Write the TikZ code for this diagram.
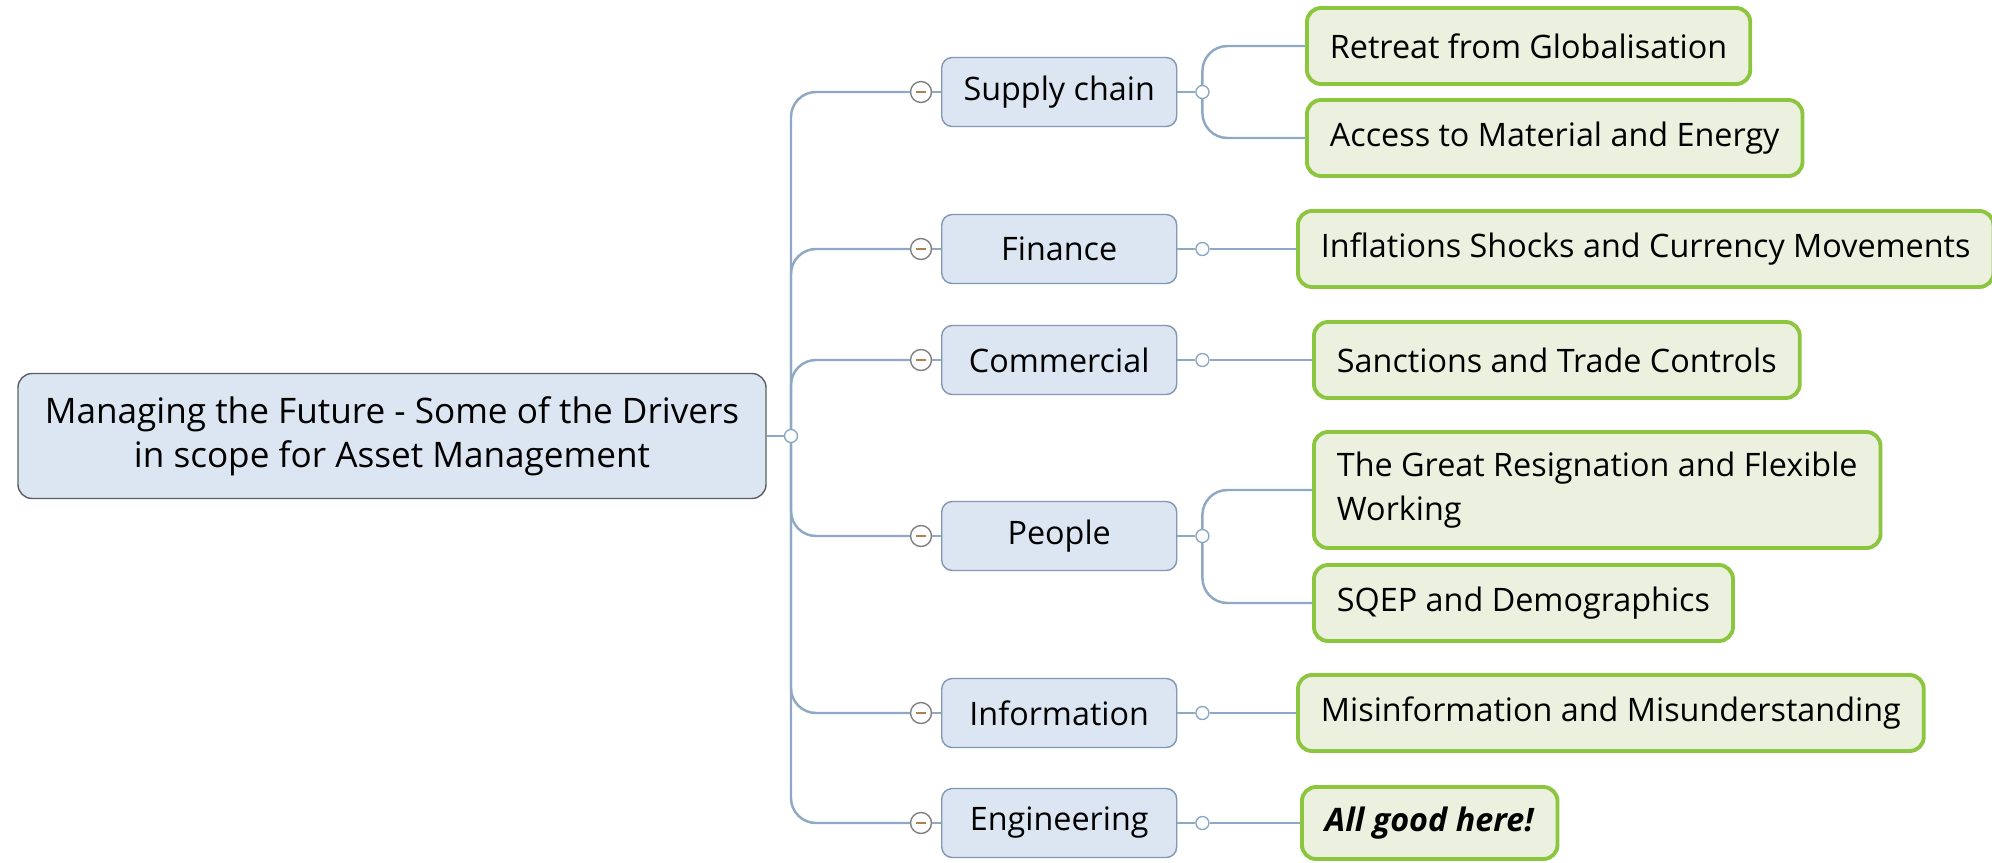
\documentclass[tikz,border=0pt]{standalone}
\usepackage{fontspec}
\setmainfont{Open Sans}
\usetikzlibrary{positioning}
\definecolor{topicfill}{HTML}{DCE6F2}
\definecolor{topicline}{HTML}{8297B3}
\definecolor{rootline}{HTML}{5A5F66}
\definecolor{leaffill}{HTML}{EBF0DF}
\definecolor{leafline}{HTML}{8CC63F}
\definecolor{linkline}{HTML}{8FA8C4}
\begin{document}
\begin{tikzpicture}[
  font=\fontsize{9.2}{12.6}\selectfont,
  root/.style={draw=rootline, fill=topicfill, rounded corners=4pt, minimum width=7.48cm,
    minimum height=1.25cm, align=center, font=\fontsize{10}{12.6}\selectfont},
  topic/.style={draw=topicline, fill=topicfill, rounded corners=3pt, minimum width=2.35cm,
    minimum height=0.69cm, anchor=west},
  leaf/.style={draw=leafline, line width=1.1pt, fill=leaffill, rounded corners=4pt,
    minimum height=0.76cm, inner xsep=0.23cm, anchor=west, align=left},
  link/.style={draw=linkline, line width=0.7pt, rounded corners=0.25cm},
  knob/.style={circle, draw=linkline, fill=white, inner sep=0pt, minimum size=0.13cm},
  fold/.style={circle, draw=gray, fill=white, inner sep=0pt, minimum size=0.21cm,
    path picture={\draw[brown!70!gray] ([xshift=-0.05cm]path picture bounding box.center)
      -- ([xshift=0.05cm]path picture bounding box.center);}},
]
\useasboundingbox (0,0) rectangle (19.92,8.62);

% centre topic
\node[root] (root) at (3.92,4.26) {Managing the Future - Some of the Drivers\\in scope for Asset Management};
\node[knob] (hub) at (7.91,4.26) {};

% main branches
\node[topic] (supply) at (9.41,7.70) {Supply chain};
\node[topic] (finance) at (9.41,6.13) {Finance};
\node[topic] (commercial) at (9.41,5.02) {Commercial};
\node[topic] (people) at (9.41,3.26) {People};
\node[topic] (information) at (9.41,1.49) {Information};
\node[topic] (engineering) at (9.41,0.39) {Engineering};

\foreach \t/\y in {supply/7.70,finance/6.13,commercial/5.02,people/3.26,information/1.49,engineering/0.39} {
  \node[fold] (\t-f) at (9.21,\y) {};
  \node[knob] (\t-k) at ([xshift=0.25cm]\t.east) {};
}

% drivers
\node[leaf] (retreat) at (13.05,8.16) {Retreat from Globalisation};
\node[leaf] (access) at (13.05,7.24) {Access to Material and Energy};
\node[leaf] (inflation) at (12.96,6.13) {Inflations Shocks and Currency Movements};
\node[leaf] (sanctions) at (13.12,5.02) {Sanctions and Trade Controls};
\node[leaf, minimum height=1.16cm] (resign) at (13.12,3.72) {The Great Resignation and Flexible\\Working};
\node[leaf] (sqep) at (13.12,2.59) {SQEP and Demographics};
\node[leaf] (misinfo) at (12.96,1.49) {Misinformation and Misunderstanding};
\node[leaf, minimum height=0.72cm] (allgood) at (13.00,0.39) {\textbf{\textit{All good here!}}};

% connectors
\draw[link] (root) -- (hub);
\foreach \t in {supply,finance,commercial,people,information,engineering} {
  \draw[link] (hub) |- (\t-f);
  \draw[link] (\t-f) -- (\t);
  \draw[link] (\t) -- (\t-k);
}
\draw[link] (supply-k) |- (retreat);
\draw[link] (supply-k) |- (access);
\draw[link] (finance-k) -- (inflation);
\draw[link] (commercial-k) -- (sanctions);
\draw[link] (people-k) |- (resign);
\draw[link] (people-k) |- (sqep);
\draw[link] (information-k) -- (misinfo);
\draw[link] (engineering-k) -- (allgood);
\end{tikzpicture}
\end{document}
